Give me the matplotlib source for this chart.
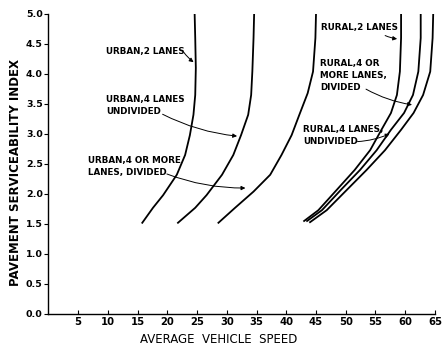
import numpy as np
import matplotlib

matplotlib.use("Agg")
import matplotlib.pyplot as plt

# readings: (speed, serviceability index) for each road type
urban_2_psi = [5.0, 4.6, 4.1, 3.65, 3.32, 2.98, 2.65, 2.32, 1.98, 1.77, 1.52]
urban_2_spd = [24.6, 24.7, 24.8, 24.7, 24.4, 23.8, 23.0, 21.6, 19.3, 17.6, 15.8]

urban_4_undiv_psi = [5.0, 4.6, 4.04, 3.65, 3.32, 2.98, 2.65, 2.32, 1.98, 1.77, 1.52]
urban_4_undiv_spd = [34.6, 34.5, 34.3, 34.1, 33.6, 32.4, 31.1, 29.2, 26.6, 24.7, 21.8]

urban_4_div_psi = [5.0, 4.6, 4.04, 3.68, 3.32, 2.98, 2.65, 2.32, 2.04, 1.77, 1.52]
urban_4_div_spd = [45.0, 44.9, 44.5, 43.6, 42.2, 40.9, 39.2, 37.3, 34.5, 31.4, 28.6]

rural_2_psi = [5.0, 4.6, 4.04, 3.65, 3.35, 3.07, 2.73, 2.4, 2.07, 1.73, 1.55]
rural_2_spd = [59.3, 59.3, 59.1, 58.6, 57.6, 56.0, 54.1, 51.5, 48.5, 45.4, 43.0]

rural_4_undiv_psi = [5.0, 4.6, 4.04, 3.65, 3.35, 3.07, 2.73, 2.4, 2.07, 1.73, 1.55]
rural_4_undiv_spd = [62.6, 62.6, 62.2, 61.3, 59.8, 57.6, 55.2, 52.4, 49.2, 46.0, 43.5]

rural_4_div_psi = [5.0, 4.6, 4.04, 3.65, 3.35, 3.07, 2.73, 2.4, 2.07, 1.73, 1.53]
rural_4_div_spd = [64.7, 64.6, 64.2, 63.0, 61.4, 59.3, 56.6, 53.5, 50.2, 46.8, 44.0]

x_ticks = [5, 10, 15, 20, 25, 30, 35, 40, 45, 50, 55, 60, 65]
y_ticks = [0.0, 0.5, 1.0, 1.5, 2.0, 2.5, 3.0, 3.5, 4.0, 4.5, 5.0]

# (text, text position, arrow tail, arrow tip)
labels = [
    ("URBAN,2 LANES", (9.7, 4.37), (22.5, 4.40), (24.8, 4.17)),
    ("URBAN,4 LANES\nUNDIVIDED", (9.7, 3.47), (18.8, 3.35), (32.2, 2.96)),
    ("URBAN,4 OR MORE\nLANES, DIVIDED", (6.7, 2.46), (19.5, 2.35), (33.6, 2.10)),
    ("RURAL,2 LANES", (45.8, 4.77), (56.2, 4.66), (59.1, 4.58)),
    ("RURAL,4 OR\nMORE LANES,\nDIVIDED", (45.7, 3.97), (53.0, 3.77), (61.6, 3.48)),
    ("RURAL,4 LANES,\nUNDIVIDED", (42.8, 2.97), (51.5, 2.87), (57.8, 3.02)),
]

fig = plt.figure(figsize=(4.45, 3.45), dpi=100)
ax = fig.add_axes([0.1085, 0.0899, 0.869, 0.8696])

curves = [
    (urban_2_spd, urban_2_psi),
    (urban_4_undiv_spd, urban_4_undiv_psi),
    (urban_4_div_spd, urban_4_div_psi),
    (rural_2_spd, rural_2_psi),
    (rural_4_undiv_spd, rural_4_undiv_psi),
    (rural_4_div_spd, rural_4_div_psi),
]
for spd, p in curves:
    ax.plot(spd, p, color="black", lw=1.3, solid_joinstyle="round")

for txt, pos, tail, tip in labels:
    ax.text(pos[0], pos[1], txt, fontsize=6.3, fontweight="bold", va="center",
            ha="left", linespacing=1.4, color="black")
    ax.annotate("", xy=tip, xytext=tail,
                arrowprops=dict(arrowstyle="-|>", color="black", lw=0.7,
                                mutation_scale=6, connectionstyle="arc3,rad=0.1"))

ax.set_xlim(0, 65)
ax.set_ylim(0, 5.0)
ax.set_xticks(x_ticks)
ax.set_xticklabels([str(t) for t in x_ticks], fontsize=7.2, fontweight="bold")
ax.set_yticks(y_ticks)
ax.set_yticklabels([f"{t:.1f}" for t in y_ticks], fontsize=6.8, fontweight="bold")
ax.tick_params(axis="x", direction="in", length=3, pad=2)
ax.tick_params(axis="y", direction="out", length=3, pad=1)
ax.spines["top"].set_visible(False)
ax.spines["right"].set_visible(False)
ax.spines["left"].set_linewidth(1.0)
ax.spines["bottom"].set_linewidth(1.0)

ax.set_xlabel("AVERAGE  VEHICLE  SPEED", fontsize=8.5)
ax.xaxis.set_label_coords(0.441, -0.062)
ax.set_ylabel("PAVEMENT SERVICEABILITY INDEX", fontsize=8.5, fontweight="bold")
ax.yaxis.set_label_coords(-0.068, 0.47)

fig.savefig("out.png", dpi=100)
